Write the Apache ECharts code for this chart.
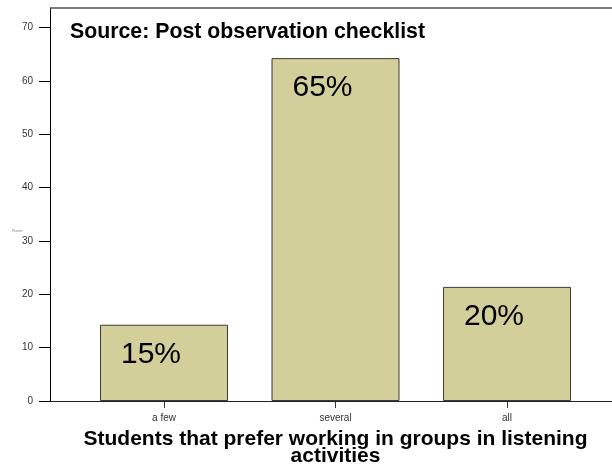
<!DOCTYPE html>
<html>
<head>
<meta charset="utf-8">
<script src="https://cdn.jsdelivr.net/npm/echarts@6/dist/echarts.min.js"></script>
<style>html,body{margin:0;padding:0;background:#fff;}#c{width:612px;height:466px;}</style>
</head>
<body>
<div id="c"></div>
<script>
var categories = ['a few', 'several', 'all'];
var percentValues = [14.3, 64.3, 21.4];
var barLabels = ['15%', '65%', '20%'];
var yTicks = [0, 10, 20, 30, 40, 50, 60, 70];
var chartTitle = 'Source: Post observation checklist';
var xTitle = 'Students that prefer working in groups in listening\nactivities';
var yTitle = 'Percent';

var chart = echarts.init(document.getElementById('c'), null, {renderer: 'canvas'});
var FONT = '"Liberation Sans", Arial, sans-serif';
chart.setOption({
  animation: false,
  title: {
    text: chartTitle,
    left: 65, top: 17,
    textStyle: {fontFamily: FONT, fontSize: 21.3, fontWeight: 'bold', color: '#000', lineHeight: 21}
  },
  grid: {left: 78.25, right: 19.25, top: 8, bottom: 65, containLabel: false, outerBoundsMode: 'none'},
  xAxis: {
    type: 'category',
    data: categories,
    axisLine: {show: false},
    axisTick: {show: true, alignWithLabel: true, length: 7, lineStyle: {color: '#333'}},
    axisLabel: {fontFamily: FONT, fontSize: 10, color: '#333', margin: 12},
    name: xTitle,
    nameLocation: 'middle',
    nameGap: 30,
    nameTextStyle: {fontFamily: FONT, fontSize: 21, fontWeight: 'bold', color: '#000', lineHeight: 17, align: 'center', verticalAlign: 'top'}
  },
  yAxis: {
    type: 'value',
    min: 0, max: 73.7,
    offset: 28.25,
    splitLine: {show: false},
    axisLine: {show: true, lineStyle: {color: '#000', width: 1}},
    axisTick: {show: true, length: 11, customValues: yTicks, lineStyle: {color: '#000'}},
    axisLabel: {fontFamily: FONT, fontSize: 10, color: '#333', margin: 17, customValues: yTicks}
  },
  graphic: [
    {type: 'line', shape: {x1: 50, y1: 8, x2: 612, y2: 8}, style: {stroke: '#555', lineWidth: 1.5}, z: 10},
    {type: 'line', shape: {x1: 50, y1: 401.5, x2: 612, y2: 401.5}, style: {stroke: '#222', lineWidth: 1.2}, z: 10},
    {type: 'text', left: 12, top: 230, style: {text: yTitle, fontSize: 3, fill: '#777', fontFamily: FONT}}
  ],
  series: [{
    type: 'bar',
    data: percentValues,
    barWidth: 128,
    itemStyle: {color: '#d3cf9a', borderColor: '#3a3a3a', borderWidth: 1},
    label: {
      show: true,
      position: 'insideTop',
      offset: [-13, 10],
      formatter: function (p) { return barLabels[p.dataIndex]; },
      fontFamily: FONT, fontSize: 30, color: '#000'
    }
  }]
});
</script>
</body>
</html>
